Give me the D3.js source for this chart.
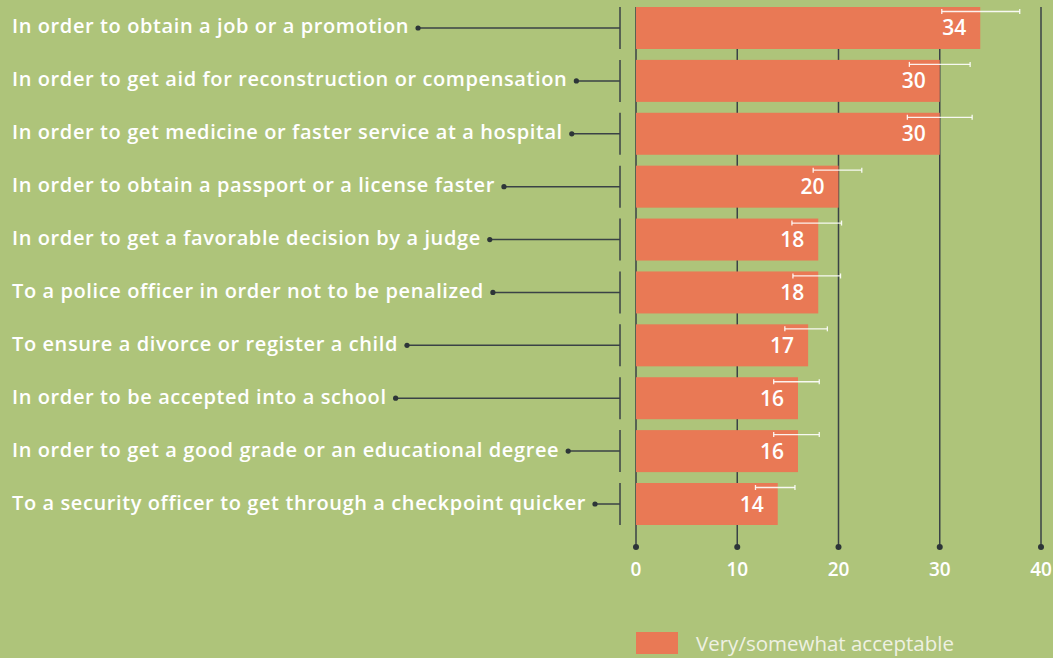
<!DOCTYPE html>
<html><head><meta charset="utf-8">
<script src="https://cdn.jsdelivr.net/npm/d3@7"></script>
<style>html,body{margin:0;padding:0;background:#aec47a;}svg{display:block;font-family:"Open Sans",sans-serif;}</style>
</head><body>
<svg id="chart" width="1053" height="658"></svg>
<script>
const categories = [
  "In order to obtain a job or a promotion",
  "In order to get aid for reconstruction or compensation",
  "In order to get medicine or faster service at a hospital",
  "In order to obtain a passport or a license faster",
  "In order to get a favorable decision by a judge",
  "To a police officer in order not to be penalized",
  "To ensure a divorce or register a child",
  "In order to be accepted into a school",
  "In order to get a good grade or an educational degree",
  "To a security officer to get through a checkpoint quicker"
];
const values = [34, 30, 30, 20, 18, 18, 17, 16, 16, 14];
const errLow = [30.2, 27.0, 26.8, 17.5, 15.4, 15.5, 14.7, 13.6, 13.6, 11.8];
const errHigh = [37.9, 33.0, 33.2, 22.3, 20.3, 20.2, 18.9, 18.1, 18.1, 15.7];
const ticks = [0, 10, 20, 30, 40];
const legendLabel = "Very/somewhat acceptable";

const svg = d3.select("#chart");
const bg = "#aec47a", barColor = "#e97955", dark = "#3a4246";
svg.append("rect").attr("width",1053).attr("height",658).attr("fill",bg);

const x = d3.scaleLinear().domain([0,40]).range([636,1041]);
const y = d3.scaleBand().domain(categories).range([7,525]).paddingInner(0.206).paddingOuter(0);

const axisY = 547;
// grid lines
const grid = svg.append("g");
grid.selectAll("line").data(ticks).join("line")
  .attr("x1",d=>x(d)).attr("x2",d=>x(d)).attr("y1",7).attr("y2",axisY)
  .attr("stroke",dark).attr("stroke-width",1.5);
grid.selectAll("circle").data(ticks).join("circle")
  .attr("cx",d=>x(d)).attr("cy",axisY).attr("r",3).attr("fill","#2d3538");

// axis tick labels
svg.append("g").selectAll("text").data(ticks).join("text")
  .attr("x",d=>x(d)).attr("y",576).attr("text-anchor","middle")
  .attr("fill","#fff").attr("font-size",19).attr("font-weight",600)
  .text(d=>d);

// bars
svg.append("g").selectAll("rect").data(values).join("rect")
  .attr("x",x(0)).attr("y",(d,i)=>y(categories[i]))
  .attr("width",d=>x(d)-x(0)).attr("height",y.bandwidth())
  .attr("fill",barColor);

// error bars
const eb = svg.append("g").attr("stroke","#ffffff").attr("stroke-width",1.3).attr("stroke-opacity",0.9);
categories.forEach((c,i)=>{
  const yy = y(c)+4.5;
  eb.append("line").attr("x1",x(errLow[i])).attr("x2",x(errHigh[i])).attr("y1",yy).attr("y2",yy);
  eb.append("line").attr("x1",x(errLow[i])).attr("x2",x(errLow[i])).attr("y1",yy-2.5).attr("y2",yy+2.5);
  eb.append("line").attr("x1",x(errHigh[i])).attr("x2",x(errHigh[i])).attr("y1",yy-2.5).attr("y2",yy+2.5);
});

// value labels
svg.append("g").selectAll("text").data(values).join("text")
  .attr("x",d=>x(d)-14).attr("y",(d,i)=>y(categories[i])+y.bandwidth()/2+7.5)
  .attr("text-anchor","end").attr("fill","#fff").attr("font-size",21).attr("font-weight",600)
  .text(d=>d);

// category labels with connectors
const sepX = 620;
const lg = svg.append("g");
categories.forEach((c,i)=>{
  const cy = y(c)+y.bandwidth()/2;
  const t = lg.append("text").attr("x",12).attr("y",cy+5.5)
    .attr("fill","#fff").attr("font-size",20).attr("letter-spacing",0.6).attr("font-weight",600).text(c);
  const w = t.node().getBBox().width;
  const dx = 12 + w + 9;
  lg.append("line").attr("x1",dx).attr("x2",sepX).attr("y1",cy).attr("y2",cy)
    .attr("stroke",dark).attr("stroke-width",1.5);
  lg.append("circle").attr("cx",dx).attr("cy",cy).attr("r",2.6).attr("fill","#2d3538");
  lg.append("line").attr("x1",sepX).attr("x2",sepX).attr("y1",y(c)).attr("y2",y(c)+y.bandwidth())
    .attr("stroke",dark).attr("stroke-width",1.5);
});

// legend
svg.append("rect").attr("x",636).attr("y",632).attr("width",42).attr("height",22).attr("fill",barColor);
svg.append("text").attr("x",696).attr("y",651).attr("fill","#eef1e2").attr("font-size",20.5)
  .attr("font-weight",400).text(legendLabel);
</script>
</body></html>
